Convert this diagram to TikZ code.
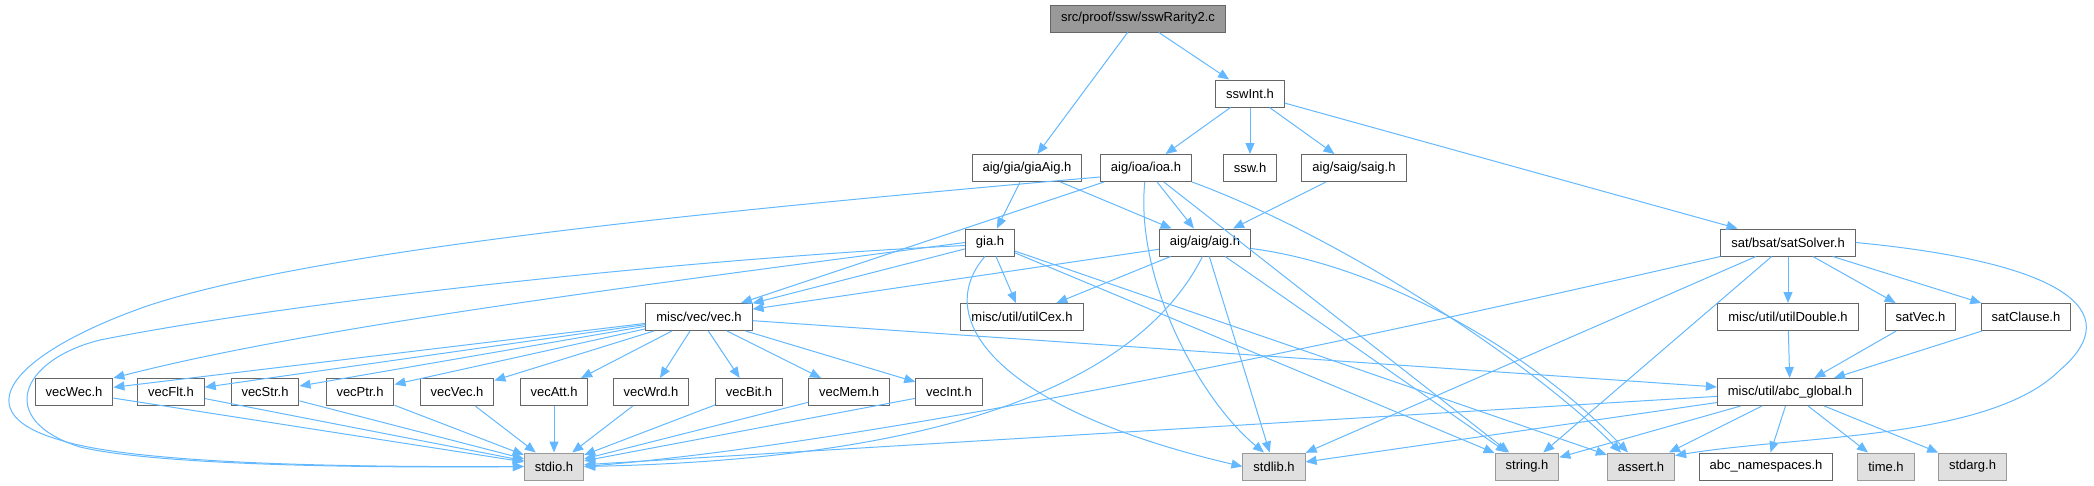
\documentclass[tikz,border=0pt]{standalone}
\usepackage{fontspec}
\setmainfont{Liberation Sans}
\usetikzlibrary{arrows.meta}
\definecolor{linkblue}{HTML}{63B8FF}
\definecolor{boxgray}{HTML}{666666}
\definecolor{sysgray}{HTML}{999999}
\definecolor{sysfill}{HTML}{E0E0E0}
\definecolor{mainfill}{HTML}{999999}

\begin{document}
\begin{tikzpicture}[x=1pt, y=-1pt,
    every node/.style={draw=boxgray, fill=white, line width=1pt, minimum height=27pt,
      inner xsep=10.5pt, inner ysep=0pt, font=\fontsize{13}{15}\selectfont},
    sysfile/.style={draw=sysgray, fill=sysfill},
    mainfile/.style={fill=mainfill},
    incl/.style={draw=linkblue, line width=1pt, -{Triangle[length=11pt, width=9pt]}}
  ]
    \useasboundingbox (0,0) rectangle (2094,485);

    \node[mainfile] (root) at (1138,18.5) {src/proof/ssw/sswRarity2.c};
    \node (sswint) at (1250,93.5) {sswInt.h};
    \node (giaaig) at (1027,168) {aig/gia/giaAig.h};
    \node (ioa) at (1146,168) {aig/ioa/ioa.h};
    \node (ssw) at (1250,168) {ssw.h};
    \node (saig) at (1354,168) {aig/saig/saig.h};
    \node (gia) at (990,242.5) {gia.h};
    \node (aig) at (1205,242.5) {aig/aig/aig.h};
    \node (satsolver) at (1788,242.5) {sat/bsat/satSolver.h};
    \node (vec) at (699,317) {misc/vec/vec.h};
    \node (utilcex) at (1022,317) {misc/util/utilCex.h};
    \node (utildouble) at (1788,317) {misc/util/utilDouble.h};
    \node (satvec) at (1920.5,317) {satVec.h};
    \node (satclause) at (2026,317) {satClause.h};
    \foreach \n/\x in {vecWec/74, vecFlt/171, vecStr/265, vecPtr/360, vecVec/457,
                       vecAtt/554, vecWrd/651, vecBit/749, vecMem/849, vecInt/949}
      \node (\n) at (\x,392) {\n.h};
    \node (abcglobal) at (1790,392) {misc/util/abc\_global.h};
    \foreach \n/\x in {stdio/554, stdlib/1274, string/1527, assert/1641, time/1886, stdarg/1972.5}
      \node[sysfile] (\n) at (\x,466.5) {\n.h};
    \node (abcns) at (1766,466.5) {abc\_namespaces.h};

    \foreach \a/\b in {root/giaaig, root/sswint, sswint/ioa, sswint/ssw, sswint/saig,
                       sswint/satsolver, giaaig/gia, giaaig/aig, ioa/aig, saig/aig,
                       ioa/vec, gia/vec, aig/vec, gia/utilcex, aig/utilcex,
                       ioa/string, gia/string, gia/assert, aig/stdlib, aig/string,
                       satsolver/utildouble, satsolver/satvec, satsolver/satclause,
                       satsolver/stdlib, satsolver/string, utildouble/abcglobal,
                       satvec/abcglobal, satclause/abcglobal, vec/abcglobal,
                       abcglobal/stdio, abcglobal/stdlib, abcglobal/string, abcglobal/assert,
                       abcglobal/abcns, abcglobal/time, abcglobal/stdarg}
      \draw[incl] (\a) -- (\b);
    \foreach \n in {vecWec, vecFlt, vecStr, vecPtr, vecVec, vecAtt, vecWrd, vecBit, vecMem, vecInt} {
      \draw[incl] (vec) -- (\n);
      \draw[incl] (\n) -- (stdio);
    }

    % bent and looping includes
    \draw[incl] (ioa.south east) .. controls (1350,240) and (1540,370) .. ([xshift=-20pt]assert.north);
    \draw[incl] ([yshift=-6pt]aig.east) .. controls (1380,265) and (1530,350) .. ([xshift=-13pt]assert.north);
    \draw[incl] (satsolver.south west) .. controls (1400,330) and (900,440) .. (stdio.east);
    \draw[incl] (ioa.-95) .. controls (1135,280) and (1200,400) .. ([xshift=-10pt]stdlib.north);
    \draw[incl] (gia.-110) .. controls (930,320) and (1000,410) .. (stdlib.west);
    \draw[incl] (aig.-100) .. controls (1130,400) and (900,460) .. (stdio.east);
    \draw[incl] (gia.west) .. controls (600,290) and (300,330) .. (vecWec.north east);
    \draw[incl] ([yshift=-9pt]ioa.west) .. controls (700,212) and (320,250) .. (150,305)
      .. controls (25,348) and (-45,410) .. (60,440) .. controls (140,466) and (380,467) .. (stdio.west);
    \draw[incl] ([yshift=-3pt]gia.west) .. controls (700,258) and (300,300) .. (100,340)
      .. controls (20,360) and (-5,420) .. (80,447) .. controls (160,466) and (380,468) .. (stdio.west);
    \draw[incl] (satsolver.east) .. controls (2060,262) and (2130,310) .. (2060,370)
      .. controls (1990,440) and (1800,435) .. ([yshift=-3pt]assert.north east);
\end{tikzpicture}
\end{document}
